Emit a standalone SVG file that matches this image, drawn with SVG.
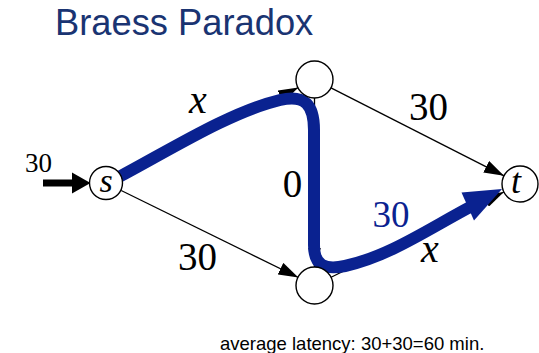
<svg xmlns="http://www.w3.org/2000/svg" width="539" height="353" viewBox="0 0 539 353">
<style>
.edge{stroke:#000;stroke-width:1.3;fill:none}
.node{fill:#fff;stroke:#000;stroke-width:1.4}
</style>
<defs>
<marker id="ah" markerUnits="userSpaceOnUse" markerWidth="20" markerHeight="13" refX="20" refY="6.5" orient="auto">
<path d="M0,0 L20,6.5 L0,13 z" fill="#000"/>
</marker>
</defs>
<rect width="539" height="353" fill="#fff"/>
<text x="55" y="35" font-family="Liberation Sans, Arial, sans-serif" font-size="36.3" fill="#1a3472">Braess Paradox</text>
<g id="connectors">
<line class="edge" x1="121.2" y1="175.4" x2="298.4" y2="87.5" marker-end="url(#ah)"/>
<line class="edge" x1="121.2" y1="190.5" x2="298.4" y2="277.5" marker-end="url(#ah)"/>
<line class="edge" x1="330.5" y1="87.7" x2="504" y2="175.8" marker-end="url(#ah)"/>
<line class="edge" x1="314.5" y1="97.5" x2="314.5" y2="267.5" marker-end="url(#ah)"/>
<line class="edge" x1="330.6" y1="277.5" x2="503.9" y2="192" marker-end="url(#ah)"/>
<line x1="43" y1="183" x2="76" y2="183" stroke="#000" stroke-width="7"/>
<polygon points="72,172.5 90.5,183 72,193.5" fill="#000"/>
</g>
<g id="flow">
<path d="M119 177 C170 150 230 112 280 100 C305 94 314 105 314 130 L314 245 C314 266 325 270 345 266 C390 256 430 228 472 206" fill="none" stroke="#0a2290" stroke-width="12" stroke-linecap="round"/>
<polygon points="461.5,192.5 502,189 474,220.5" fill="#0a2290"/>
</g>
<g font-family="Liberation Serif, Times New Roman, serif" text-anchor="middle">
<g id="node-s"><circle class="node" cx="106" cy="183" r="16.5"/><text x="106" y="192" font-size="34" font-style="italic">s</text></g>
<g id="node-top"><circle class="node" cx="314.5" cy="79.5" r="18.5"/></g>
<g id="node-bottom"><circle class="node" cx="314.5" cy="285.5" r="18.5"/></g>
<g id="node-t"><circle class="node" cx="520" cy="184" r="18"/><text x="516" y="193" font-size="36" font-style="italic">t</text></g>
<g id="labels">
<text x="198" y="113" font-size="40" font-style="italic">x</text>
<text x="428.5" y="120" font-size="39">30</text>
<text x="292.5" y="197" font-size="39">0</text>
<text x="197.5" y="270" font-size="39">30</text>
<text x="391" y="227" font-size="37" fill="#0a2290">30</text>
<text x="430" y="262" font-size="40" font-style="italic">x</text>
<text x="38.5" y="172" font-size="27">30</text>
</g>
</g>
<text x="220" y="350" font-family="Liberation Sans, Arial, sans-serif" font-size="18.5" fill="#000">average latency: 30+30=60 min.</text>
</svg>
